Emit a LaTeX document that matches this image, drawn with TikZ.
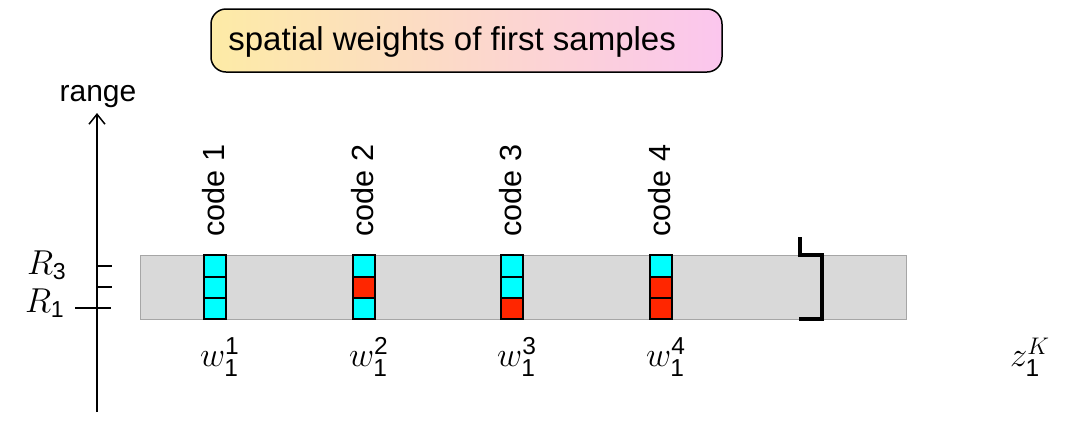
\documentclass[tikz,border=0pt]{standalone}
\usepackage{amsmath}
\usepackage{fontspec}
\setmainfont{Liberation Sans}
\newfontfamily\labelfont{Liberation Sans}
\usetikzlibrary{arrows.meta}
\newcommand{\sdig}[1]{\text{#1}}
\definecolor{cellcyan}{HTML}{00FFFF}
\definecolor{cellred}{HTML}{FF2600}
\definecolor{bandgray}{HTML}{D9D9D9}
\definecolor{bandedge}{HTML}{A6A6A6}
\definecolor{titleleft}{HTML}{FDEBA6}
\definecolor{titleright}{HTML}{FBC6EE}
\begin{document}
\begin{tikzpicture}[x=0.5pt,y=-0.5pt,
  cyancell/.style={fill=cellcyan,draw=black,line width=1pt},
  redcell/.style={fill=cellred,draw=black,line width=1pt},
  codelabel/.style={font=\labelfont\fontsize{15.3}{18}\selectfont,rotate=90,anchor=west,inner sep=0pt},
  wlabel/.style={font=\fontsize{17.5}{20}\selectfont,inner sep=0pt},
  rlabel/.style={font=\fontsize{16.5}{19}\selectfont,inner sep=0pt},
  tick/.style={line width=0.75pt}]
\useasboundingbox (0,0) rectangle (1067,424);
% title
\shade[left color=titleleft,right color=titleright,rounded corners=7.5pt] (211,9) rectangle (722,72);
\draw[line width=0.75pt,rounded corners=7.5pt] (211,9) rectangle (722,72);
\node[font=\labelfont\fontsize{16.5}{19}\selectfont,anchor=west,inner sep=0pt] (title) at (228,42) {spatial weights of first samples};
% band
\draw[fill=bandgray,draw=bandedge,line width=0.5pt] (140,255) rectangle (906,319);
% axis
\coordinate (axbot) at (97,412);
\coordinate (axtop) at (97,113);
\draw[line width=0.75pt,-{Straight Barb[length=5pt,width=8pt]}] (axbot) -- (axtop);
\node[font=\labelfont\fontsize{15}{18}\selectfont,inner sep=0pt] (range) at (98,97) {range};
\coordinate (t3a) at (97,266); \coordinate (t3b) at (112,266);
\coordinate (t2a) at (97,287); \coordinate (t2b) at (112,287);
\coordinate (t1a) at (75,308); \coordinate (t1b) at (111,308);
\draw[tick] (t3a) -- (t3b);
\draw[tick] (t2a) -- (t2b);
\draw[tick] (t1a) -- (t1b);
\node[rlabel] (r3) at (47,265) {$R_{\sdig{3}}$};
\node[rlabel] (r1) at (45,303) {$R_{\sdig{1}}$};
% columns
\foreach \cx/\ta/\tb/\tc [count=\i] in {215/cyancell/cyancell/cyancell,364/cyancell/redcell/cyancell,512/cyancell/cyancell/redcell,661/cyancell/redcell/redcell}{
  \draw[\ta] (\cx-11,255) rectangle (\cx+11,276.5);
  \draw[\tb] (\cx-11,276.5) rectangle (\cx+11,298);
  \draw[\tc] (\cx-11,298) rectangle (\cx+11,319);
  \node[codelabel] (code\i) at (\cx-1,237) {code \i};
  \node[wlabel] (w\i) at (\cx+5,357) {$w_{\sdig{1}}^{\sdig{\i}}$};
}
% bracket
\coordinate (b1) at (800,237);
\coordinate (b2) at (800,255);
\coordinate (b3) at (822,255);
\coordinate (b4) at (822,319);
\coordinate (b5) at (799,319);
\draw[line width=2pt] (b1) -- (b2) -- (b3) -- (b4) -- (b5);
\node[wlabel] (zK) at (1030,357) {$z_{\sdig{1}}^K$};
\end{tikzpicture}
\end{document}
